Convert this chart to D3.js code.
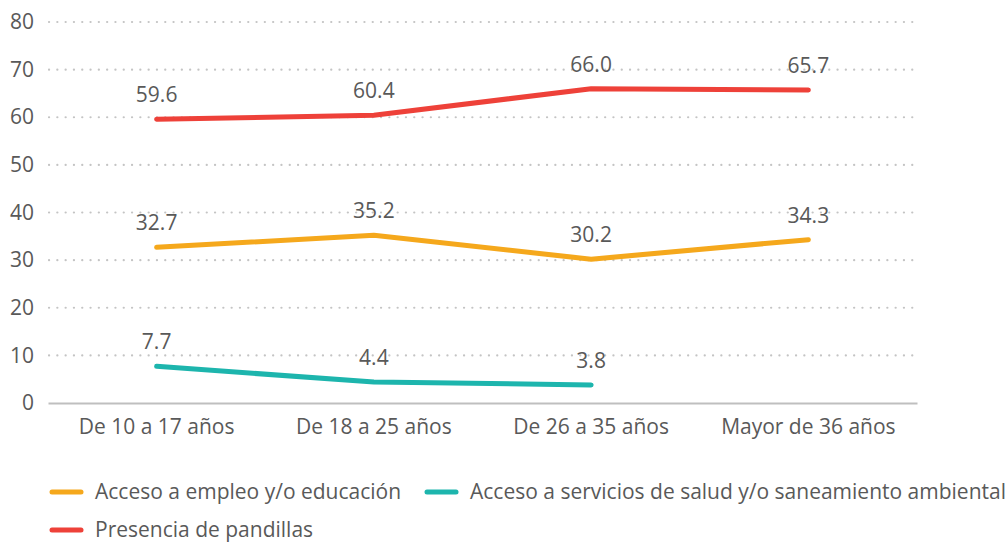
<!DOCTYPE html>
<html><head><meta charset="utf-8">
<script src="https://cdn.jsdelivr.net/npm/d3@7"></script>
<style>body{margin:0;background:#fff;} svg{display:block;}</style>
</head><body>
<svg id="c" width="1007" height="543"></svg>
<script>
const categories = ["De 10 a 17 años", "De 18 a 25 años", "De 26 a 35 años", "Mayor de 36 años"];
const empleo = [32.7, 35.2, 30.2, 34.3];
const salud = [7.7, 4.4, 3.8, null];
const pandillas = [59.6, 60.4, 66.0, 65.7];
const yTicks = [0, 10, 20, 30, 40, 50, 60, 70, 80];
const seriesNames = ["Acceso a empleo y/o educación", "Acceso a servicios de salud y/o saneamiento ambiental", "Presencia de pandillas"];
const colors = ["#F5A81C", "#1DB5AD", "#EE4139"];

(function () {
const font = "'Open Sans', sans-serif";
const fs = 21;
const svg = d3.select("#c");
const mLeft = 48, mRight = 917, mTop = 22, mBottom = 403;
const x = d3.scaleBand().domain(categories).range([mLeft, mRight]);
const y = d3.scaleLinear().domain([0, 80]).range([mBottom, mTop]);
const txt = "#595959";

svg.append("g").selectAll("line").data(yTicks.filter(d => d > 0)).join("line")
  .attr("x1", mLeft + 1).attr("x2", mRight)
  .attr("y1", d => y(d)).attr("y2", d => y(d))
  .attr("stroke", "#c4c4c4").attr("stroke-width", 2.2)
  .attr("stroke-dasharray", "0.1 8.2").attr("stroke-linecap", "round");

const ya = svg.append("g").attr("transform", `translate(${mLeft},0)`)
  .call(d3.axisLeft(y).tickValues(yTicks).tickSize(0).tickPadding(14));
ya.select(".domain").remove();
ya.selectAll("text").attr("font-family", font).attr("font-size", fs).attr("fill", txt);

const xa = svg.append("g").attr("transform", `translate(0,${mBottom})`)
  .call(d3.axisBottom(x).tickSize(0).tickPadding(16));
xa.select(".domain").attr("stroke", "#bfbfbf").attr("stroke-width", 2);
xa.selectAll("text").attr("font-family", font).attr("font-size", fs).attr("fill", txt);

const all = [empleo, salud, pandillas];
const line = d3.line().defined(d => d.v != null)
  .x(d => x(d.c) + x.bandwidth() / 2).y(d => y(d.v));
all.forEach((vals, i) => {
  const data = vals.map((v, j) => ({c: categories[j], v}));
  svg.append("path").datum(data).attr("d", line)
    .attr("fill", "none").attr("stroke", colors[i]).attr("stroke-width", 5)
    .attr("stroke-linecap", "round").attr("stroke-linejoin", "round");
  svg.append("g").selectAll("text").data(data.filter(d => d.v != null)).join("text")
    .attr("x", d => x(d.c) + x.bandwidth() / 2)
    .attr("y", d => y(d.v) - 17)
    .attr("text-anchor", "middle")
    .attr("font-family", font).attr("font-size", fs).attr("fill", txt)
    .text(d => d.v.toFixed(1));
});

const legPos = [[50, 492], [425, 492], [50, 530]];
seriesNames.forEach((n, i) => {
  const g = svg.append("g").attr("transform", `translate(${legPos[i][0]},${legPos[i][1]})`);
  g.append("line").attr("x1", 2).attr("x2", 31).attr("y1", 0).attr("y2", 0)
    .attr("stroke", colors[i]).attr("stroke-width", 5).attr("stroke-linecap", "round");
  g.append("text").attr("x", 45).attr("y", 0).attr("dy", "0.35em")
    .attr("font-family", font).attr("font-size", fs).attr("fill", txt).text(n);
});
})();
</script>
</body></html>
